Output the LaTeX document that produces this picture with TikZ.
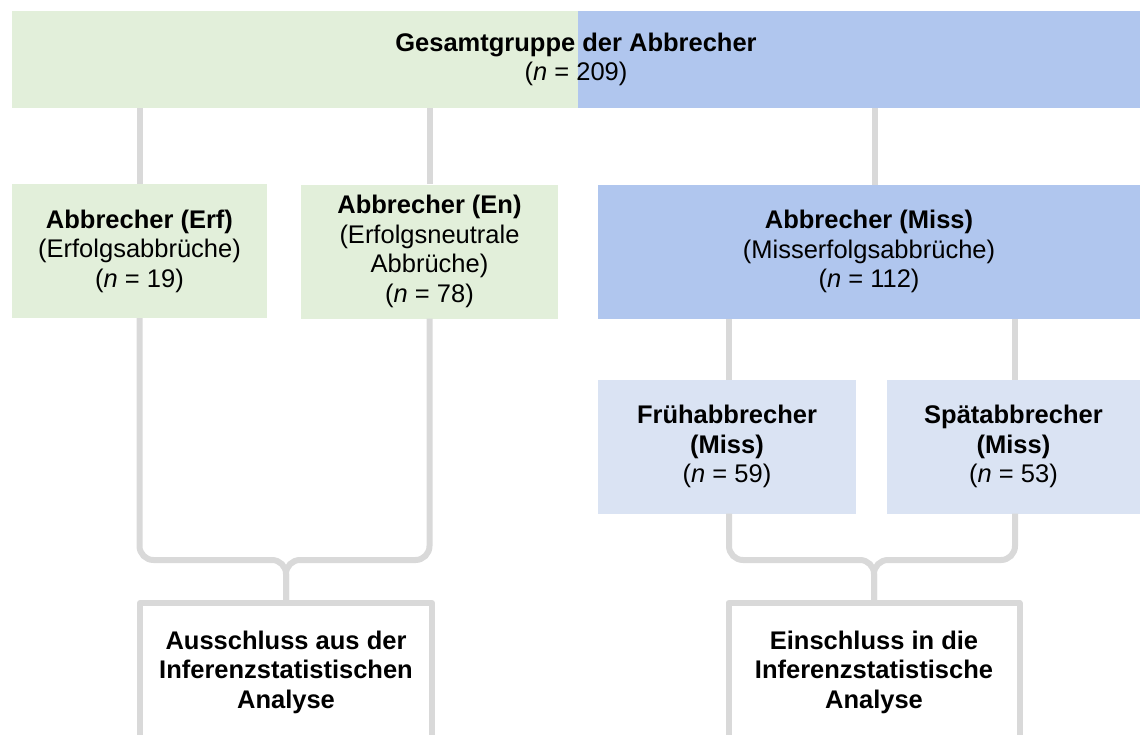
\documentclass[tikz,border=0pt]{standalone}
\usepackage{fontspec}
\setmainfont{Liberation Sans}
\definecolor{boxgreen}{HTML}{E2EFDA}
\definecolor{boxblue}{HTML}{B0C6EE}
\definecolor{boxlight}{HTML}{DAE3F3}
\definecolor{linegray}{HTML}{D9D9D9}
\tikzset{
  every node/.style={font=\fontsize{25.5}{29.5}\selectfont, align=center, inner sep=0pt},
  link/.style={draw=linegray, line width=6pt},
  brace/.style={draw=linegray, line width=6pt, rounded corners=14pt},
  greenbox/.style={fill=boxgreen, minimum height=134pt},
  bluebox/.style={fill=boxblue, minimum height=134pt},
  lightbox/.style={fill=boxlight, minimum height=134pt},
  resultbox/.style={draw=linegray, line width=6pt, fill=white, line join=round, minimum height=138pt}
}
\begin{document}
\begin{tikzpicture}[x=1pt,y=-1pt]
\useasboundingbox (0,0) rectangle (1140,734);
\clip (0,0) rectangle (1140,734);
% top box
\fill[boxgreen] (12,11) rectangle (578,108);
\fill[boxblue] (578,11) rectangle (1140,108);
\node (top) at (576,59.5) [minimum width=1128pt, minimum height=97pt]
  {\textbf{Gesamtgruppe der Abbrecher}\\(\textit{n} = 209)};
% second row
\node[greenbox, minimum width=255pt] (erf) at (139.5,251)
  {\textbf{Abbrecher (Erf)}\\(Erfolgsabbrüche)\\(\textit{n} = 19)};
\node[greenbox, minimum width=257pt] (en) at (429.5,251.5)
  {\textbf{Abbrecher (En)}\\(Erfolgsneutrale\\Abbrüche)\\(\textit{n} = 78)};
\node[bluebox, minimum width=542pt] (miss) at (869,251.5)
  {\textbf{Abbrecher (Miss)}\\(Misserfolgsabbrüche)\\(\textit{n} = 112)};
% third row
\node[lightbox, minimum width=258pt] (frueh) at (727,446.5)
  {\textbf{Frühabbrecher}\\\textbf{(Miss)}\\(\textit{n} = 59)};
\node[lightbox, minimum width=253pt] (spaet) at (1013.5,446.5)
  {\textbf{Spätabbrecher}\\\textbf{(Miss)}\\(\textit{n} = 53)};
% result boxes
\node[resultbox, minimum width=292pt] (aus) at (286,672)
  {\textbf{Ausschluss aus der}\\\textbf{Inferenzstatistischen}\\\textbf{Analyse}};
\node[resultbox, minimum width=291pt] (ein) at (874,672)
  {\textbf{Einschluss in die}\\\textbf{Inferenzstatistische}\\\textbf{Analyse}};
% connectors top -> second row
\coordinate (mtop) at (875,185);
\draw[link] (top.south -| erf.north) -- (erf.north);
\draw[link] (top.south -| en.north) -- (en.north);
\draw[link] (top.south -| mtop) -- (mtop);
% connectors miss -> third row
\coordinate (f1) at (729,380);
\coordinate (s1) at (1015,380);
\draw[link] (miss.south -| f1) -- (f1);
\draw[link] (miss.south -| s1) -- (s1);
% braces
\coordinate (bl) at (0,560);
\draw[brace] (erf.south) |- (aus.north |- bl) -- (aus.north);
\draw[brace] (en.south) |- (aus.north |- bl) -- (aus.north);
\draw[brace] (frueh.south -| f1) |- (ein.north |- bl) -- (ein.north);
\draw[brace] (spaet.south -| s1) |- (ein.north |- bl) -- (ein.north);
\end{tikzpicture}
\end{document}
